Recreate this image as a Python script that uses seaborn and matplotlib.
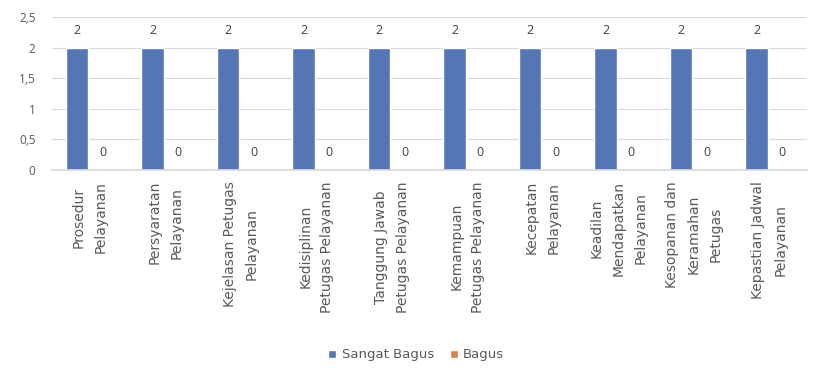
import matplotlib
matplotlib.use("Agg")
import matplotlib.pyplot as plt
import seaborn as sns
import pandas as pd

categories = [
    "Prosedur\nPelayanan",
    "Persyaratan\nPelayanan",
    "Kejelasan Petugas\nPelayanan",
    "Kedisiplinan\nPetugas Pelayanan",
    "Tanggung Jawab\nPetugas Pelayanan",
    "Kemampuan\nPetugas Pelayanan",
    "Kecepatan\nPelayanan",
    "Keadilan\nMendapatkan\nPelayanan",
    "Kesopanan dan\nKeramahan\nPetugas",
    "Kepastian Jadwal\nPelayanan",
]
series_names = ["Sangat Bagus", "Bagus"]
sangat_bagus = [2, 2, 2, 2, 2, 2, 2, 2, 2, 2]
bagus = [0, 0, 0, 0, 0, 0, 0, 0, 0, 0]
y_ticks = [0, 0.5, 1, 1.5, 2, 2.5]
y_tick_labels = ["0", "0,5", "1", "1,5", "2", "2,5"]
colors = ["#4472C4", "#ED7D31"]

df = pd.DataFrame({
    "cat": categories * 2,
    "series": [series_names[0]] * len(categories) + [series_names[1]] * len(categories),
    "val": sangat_bagus + bagus,
})

sns.set_theme(style="white")
plt.rcParams['font.family'] = ['Open Sans', 'DejaVu Sans']

fig = plt.figure(figsize=(8.17, 3.71), dpi=100)
ax = fig.add_axes([0.064, 0.542, 0.924, 0.412])

sns.barplot(data=df, x="cat", y="val", hue="series", palette=colors,
            width=0.68, gap=0.12, ax=ax, legend=True)

ax.set_ylim(0, 2.5)
ax.set_xlim(-0.5, len(categories) - 0.5)
ax.set_yticks(y_ticks)
ax.set_yticklabels(y_tick_labels)
ax.yaxis.grid(True, color="#D9D9D9", linewidth=0.8)
ax.set_axisbelow(True)
for s in ["top", "right", "left"]:
    ax.spines[s].set_visible(False)
ax.spines["bottom"].set_color("#D9D9D9")
ax.set_xlabel("")
ax.set_ylabel("")
ax.tick_params(axis="y", length=0, labelsize=8.5, colors="#595959", pad=12)
ax.tick_params(axis="x", length=0, labelsize=10, colors="#595959", pad=8)
plt.setp(ax.get_xticklabels(), rotation=90, ha="center", va="top",
         multialignment="center", linespacing=1.72, family="DejaVu Sans")

for cont in ax.containers:
    ax.bar_label(cont, fmt="%g", padding=8, fontsize=9, color="#404040")

ax.legend(loc="center", bbox_to_anchor=(0.482, -1.21), ncol=2, frameon=False,
          prop={"family": "DejaVu Sans", "size": 9.5},
          handlelength=0.6, handleheight=0.6, columnspacing=1.2,
          handletextpad=0.4, labelcolor="#595959")

fig.savefig("out.png", dpi=100, facecolor="white")
